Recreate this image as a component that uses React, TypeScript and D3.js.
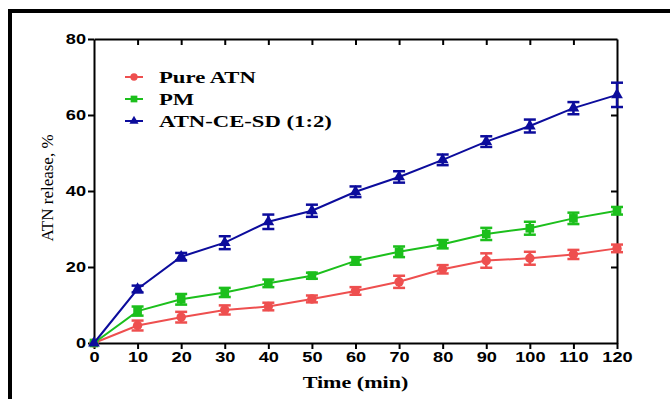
import React, { useRef, useEffect } from "react";
import { select, scaleLinear, axisBottom, axisLeft, axisTop, axisRight, line, symbol, symbolCircle, symbolSquare, symbolTriangle } from "d3";

const times = [0, 10, 20, 30, 40, 50, 60, 70, 80, 90, 100, 110, 120];
const pureATN = [0, 4.6, 6.8, 8.7, 9.6, 11.6, 13.7, 16.1, 19.4, 21.7, 22.3, 23.3, 24.9];
const pureErr = [0, 1.3, 1.4, 1.2, 1.0, 0.9, 1.0, 1.6, 1.1, 1.9, 1.7, 1.2, 1.0];
const pmVals = [0, 8.4, 11.5, 13.3, 15.7, 17.7, 21.6, 24.0, 26.0, 28.7, 30.2, 32.8, 34.8];
const pmErr = [0, 1.2, 1.4, 1.2, 1.0, 0.8, 1.0, 1.4, 1.1, 1.6, 1.7, 1.5, 1.0];
const sdVals = [0, 14.2, 22.7, 26.4, 31.9, 34.8, 39.8, 43.7, 48.2, 53.0, 57.1, 61.8, 65.3];
const sdErr = [0, 0.9, 1.0, 1.7, 1.9, 1.6, 1.4, 1.5, 1.4, 1.4, 1.7, 1.6, 3.2];
const yTicks = [0, 20, 40, 60, 80];
const seriesNames = ["Pure ATN", "PM", "ATN-CE-SD (1:2)"];
const seriesColors = ["#ee4f4f", "#1cbf1c", "#0c0c9c"];

const W = 670, H = 399;
const X0 = 94, X1 = 617, Y0 = 343, Y1 = 39;
const SX = 1.3;

function App() {
  const svgRef = useRef<SVGSVGElement>(null);

  useEffect(() => {
    const svg = select(svgRef.current);
    svg.selectAll("*").remove();

    const xscale = scaleLinear().domain([0, 120]).range([X0, X1]);
    const yscale = scaleLinear().domain([0, 80]).range([Y0, Y1]);

    // frame (right and bottom edges fall outside the picture)
    svg.append("rect")
      .attr("x", 10).attr("y", 11).attr("width", 720).attr("height", 420)
      .attr("fill", "none").attr("stroke", "#000").attr("stroke-width", 4);

    const styleAxis = (g) => {
      g.select(".domain").attr("stroke", "#000").attr("stroke-width", 2);
      g.selectAll(".tick line").attr("stroke", "#000").attr("stroke-width", 2);
    };

    // bottom
    const gx = svg.append("g").attr("transform", `translate(0,${Y0})`)
      .call(axisBottom(xscale).tickValues(times).tickSize(6).tickSizeOuter(0).tickPadding(3));
    styleAxis(gx);
    gx.selectAll(".tick text")
      .attr("font-family", "Liberation Sans, Arial, sans-serif")
      .attr("font-weight", "bold").attr("font-size", 14).attr("fill", "#000")
      .attr("transform", `scale(${SX},1)`);

    // top
    const gt = svg.append("g").attr("transform", `translate(0,${Y1})`)
      .call(axisTop(xscale).tickValues(times.slice(1, -1)).tickSize(-6).tickSizeOuter(0).tickFormat(() => ""));
    styleAxis(gt);

    // left
    const gy = svg.append("g").attr("transform", `translate(${X0},0)`)
      .call(axisLeft(yscale).tickValues(yTicks).tickSize(6).tickSizeOuter(0).tickPadding(2));
    styleAxis(gy);
    gy.selectAll(".tick text")
      .attr("font-family", "Liberation Sans, Arial, sans-serif")
      .attr("font-weight", "bold").attr("font-size", 14).attr("fill", "#000")
      .attr("x", -8 / SX)
      .attr("transform", `scale(${SX},1)`);

    // right
    const gr = svg.append("g").attr("transform", `translate(${X1},0)`)
      .call(axisRight(yscale).tickValues([20, 40, 60]).tickSize(-6).tickSizeOuter(0).tickFormat(() => ""));
    styleAxis(gr);

    // axis titles
    svg.append("text")
      .attr("transform", `translate(${(X0 + X1) / 2},${Y0 + 45}) scale(${SX},1)`)
      .attr("text-anchor", "middle")
      .attr("font-family", "Liberation Serif, Times New Roman, serif")
      .attr("font-weight", "bold").attr("font-size", 17)
      .text("Time (min)");

    svg.append("text")
      .attr("transform", `translate(53,${(Y0 + Y1) / 2 - 3}) rotate(-90)`)
      .attr("text-anchor", "middle")
      .attr("font-family", "Liberation Serif, Times New Roman, serif")
      .attr("font-size", 17)
      .text("ATN release, %");

    const allSeries = [
      { vals: pureATN, err: pureErr, sym: symbolCircle, size: 70 },
      { vals: pmVals, err: pmErr, sym: symbolSquare, size: 75 },
      { vals: sdVals, err: sdErr, sym: symbolTriangle, size: 60 },
    ];

    allSeries.forEach((s, i) => {
      const color = seriesColors[i];
      const pts = times.map((t, j) => ({ t, v: s.vals[j], e: s.err[j] }));
      const g = svg.append("g");
      const myLine = line<any>().x(d => xscale(d.t)).y(d => yscale(d.v));
      g.append("path").attr("d", myLine(pts))
        .attr("fill", "none").attr("stroke", color).attr("stroke-width", 2);

      const eb = g.selectAll(".eb").data(pts.filter(d => d.e > 0)).join("g");
      eb.append("line")
        .attr("x1", d => xscale(d.t)).attr("x2", d => xscale(d.t))
        .attr("y1", d => yscale(d.v - d.e)).attr("y2", d => yscale(d.v + d.e))
        .attr("stroke", color).attr("stroke-width", 2.5);
      [-1, 1].forEach(k => {
        eb.append("line")
          .attr("x1", d => xscale(d.t) - 6).attr("x2", d => xscale(d.t) + 6)
          .attr("y1", d => yscale(d.v + k * d.e)).attr("y2", d => yscale(d.v + k * d.e))
          .attr("stroke", color).attr("stroke-width", 2.5);
      });

      g.selectAll(".mk").data(pts).join("path")
        .attr("transform", d => `translate(${xscale(d.t)},${yscale(d.v)})`)
        .attr("d", symbol().type(s.sym).size(s.size)())
        .attr("fill", color);

      // legend
      const ly = 77 + i * 22;
      svg.append("line").attr("x1", 125).attr("x2", 143).attr("y1", ly).attr("y2", ly)
        .attr("stroke", color).attr("stroke-width", 2);
      svg.append("path")
        .attr("transform", `translate(134,${ly})`)
        .attr("d", symbol().type(s.sym).size(s.size * 0.6)())
        .attr("fill", color);
      svg.append("text")
        .attr("transform", `translate(159,${ly + 5.5}) scale(1.42,1)`)
        .attr("font-family", "Liberation Serif, Times New Roman, serif")
        .attr("font-weight", "bold").attr("font-size", 16)
        .text(seriesNames[i]);
    });
  }, []);

  return (
    <svg ref={svgRef} width={W} height={H}
      style={{ position: "absolute", left: 0, top: 0, background: "#fff" }} />
  );
}

export default App;
